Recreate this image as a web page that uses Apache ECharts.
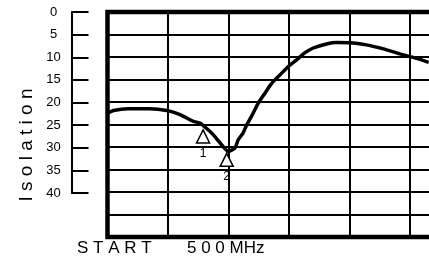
<!DOCTYPE html>
<html>
<head>
<meta charset="utf-8">
<script src="https://cdn.jsdelivr.net/npm/echarts@6/dist/echarts.min.js"></script>
<style>
  html, body { margin: 0; padding: 0; background: #fff; }
  #chart { width: 429px; height: 257px; }
</style>
</head>
<body>
<div id="chart"></div>
<script>
// trace: x in graticule divisions from START, y in dB
const traceX = [0, 0.10, 0.34, 0.70, 0.98, 1.20, 1.42, 1.53, 1.64, 1.75, 1.91, 2.00, 2.05, 2.11, 2.16, 2.24, 2.30, 2.38,
    2.49, 2.60, 2.71, 2.85, 2.99, 3.13, 3.26, 3.40, 3.62, 3.79, 4.06, 4.28, 4.56, 4.83, 5.11, 5.31];
const traceDb = [22.5, 21.9, 21.5, 21.5, 21.9, 22.8, 24.3, 24.7, 25.9, 27.3, 29.9, 31.0, 30.7, 30.2, 28.4, 26.9, 25.1, 23.2,
    20.3, 18.1, 15.9, 14.0, 12.1, 10.6, 9.1, 8.0, 7.1, 6.8, 6.9, 7.3, 8.2, 9.3, 10.3, 11.2];

// markers 1 and 2
const markerNames = ['1', '2'];
const markerX = [1.58, 1.97];
const markerDb = [26.2, 31.4];

// left hand scale
const scaleMin = 0;
const scaleMax = 40;
const scaleStep = 5;

const chartDom = document.getElementById('chart');
const myChart = echarts.init(chartDom, null, { renderer: 'canvas' });
let option;

const txt = { fontFamily: 'Liberation Sans, Arial, sans-serif', fill: '#000' };

option = {
    backgroundColor: '#fff',
    animation: false,
    grid: [
        // main graticule, runs off the right of the picture
        {
            left: 107.5, top: 12, width: 605, height: 225, outerBoundsMode: 'none',
            show: true, borderColor: '#000', borderWidth: 4.5, backgroundColor: 'transparent'
        },
        // the little scale on the left
        { left: 71.5, top: 12, width: 17, height: 181, outerBoundsMode: 'none' }
    ],
    xAxis: [
        {
            gridIndex: 0, type: 'value', min: 0, max: 10, interval: 1,
            axisLine: { show: false }, axisTick: { show: false }, axisLabel: { show: false },
            splitLine: { show: true, lineStyle: { color: '#000', width: 2 } }
        },
        {
            gridIndex: 1, type: 'value', min: 0, max: 1, show: false
        }
    ],
    yAxis: [
        {
            gridIndex: 0, type: 'value', min: 0, max: 50, interval: 5, inverse: true,
            axisLine: { show: false }, axisTick: { show: false }, axisLabel: { show: false },
            splitLine: { show: true, lineStyle: { color: '#000', width: 2 } }
        },
        {
            gridIndex: 1, type: 'value', min: scaleMin, max: scaleMax, interval: scaleStep, inverse: true,
            axisLine: { show: true, lineStyle: { color: '#000', width: 2 } },
            axisTick: { show: false },
            axisLabel: { color: '#000', fontSize: 13, fontFamily: 'Liberation Sans, Arial, sans-serif', align: 'center', margin: 18 },
            splitLine: { show: true, lineStyle: { color: '#000', width: 2 } }
        }
    ],
    series: [
        {
            type: 'line',
            xAxisIndex: 0,
            yAxisIndex: 0,
            data: traceX.map((x, i) => [x, traceDb[i]]),
            showSymbol: false,
            smooth: 0.2,
            lineStyle: { color: '#000', width: 3.5 },
            z: 3
        },
        {
            type: 'scatter',
            xAxisIndex: 0,
            yAxisIndex: 0,
            data: markerX.map((x, i) => ({ value: [x, markerDb[i]], name: markerNames[i] })),
            symbol: 'triangle',
            symbolSize: [13, 13],
            symbolOffset: [0, '50%'],
            itemStyle: { color: '#fff', borderColor: '#000', borderWidth: 1.5, opacity: 1 },
            label: {
                show: true, position: 'bottom', distance: 4, formatter: '{b}',
                color: '#000', fontSize: 12, fontFamily: 'Liberation Sans, Arial, sans-serif'
            },
            z: 4
        }
    ],
    graphic: [
        {
            type: 'text', left: 77, top: 240,
            style: Object.assign({ text: 'S T A R T', fontSize: 17 }, txt)
        },
        {
            type: 'text', left: 187, top: 240,
            style: Object.assign({ text: '5 0 0 MHz', fontSize: 17 }, txt)
        },
        {
            type: 'text', x: 27, y: 145, rotation: Math.PI / 2,
            style: Object.assign({ text: 'I s o l a t i o n', fontSize: 19, align: 'center', verticalAlign: 'middle' }, txt)
        }
    ]
};

myChart.setOption(option);
</script>
</body>
</html>
